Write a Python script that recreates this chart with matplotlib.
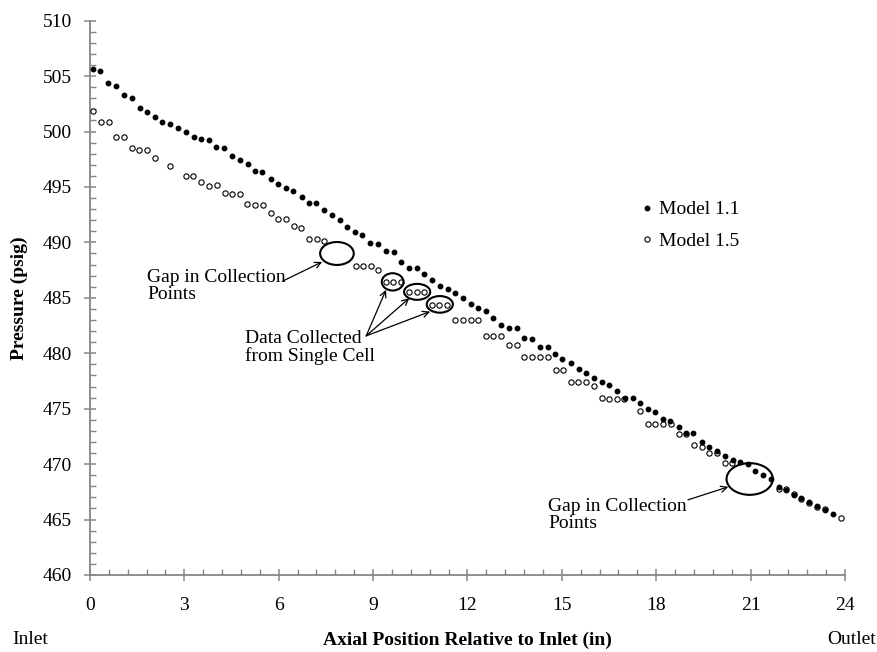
import matplotlib.pyplot as plt
from matplotlib.patches import Ellipse
from matplotlib.ticker import MultipleLocator

plt.rcParams['font.family'] = ['Liberation Serif', 'DejaVu Serif']

# axial position (in) and pressure (psig), Model 1.1
pos_m11 = [0.09, 0.33, 0.58, 0.84, 1.09, 1.33, 1.59, 1.81, 2.07, 2.30,
           2.55, 2.81, 3.04, 3.30, 3.53, 3.77, 4.02, 4.26, 4.52, 4.76,
           5.01, 5.25, 5.48, 5.76, 5.98, 6.23, 6.46, 6.73, 6.95, 7.20,
           7.45, 7.69, 7.94, 8.18, 8.43, 8.65, 8.91, 9.17, 9.41, 9.65,
           9.88, 10.14, 10.38, 10.63, 10.88, 11.13, 11.37, 11.60, 11.85, 12.10,
           12.34, 12.59, 12.82, 13.08, 13.32, 13.56, 13.81, 14.05, 14.30, 14.55,
           14.79, 15.02, 15.29, 15.54, 15.77, 16.03, 16.26, 16.51, 16.74, 17.00,
           17.25, 17.49, 17.73, 17.97, 18.22, 18.45, 18.71, 18.95, 19.18, 19.44,
           19.68, 19.93, 20.19, 20.43, 20.67, 20.91, 21.15, 21.39, 21.64, 21.89,
           22.13, 22.37, 22.61, 22.86, 23.11, 23.36, 23.61]
p_m11 = [505.64, 505.46, 504.36, 504.08, 503.30, 503.00, 502.10, 501.79, 501.34, 500.89,
         500.69, 500.35, 499.96, 499.51, 499.36, 499.24, 498.61, 498.49, 497.80, 497.47,
         497.03, 496.40, 496.38, 495.73, 495.28, 494.94, 494.64, 494.10, 493.56, 493.56,
         492.93, 492.48, 492.00, 491.37, 490.90, 490.69, 489.91, 489.88, 489.26, 489.13,
         488.22, 487.73, 487.68, 487.16, 486.60, 486.05, 485.78, 485.47, 485.02, 484.41,
         484.11, 483.82, 483.19, 482.54, 482.25, 482.25, 481.36, 481.33, 480.53, 480.53,
         479.92, 479.47, 479.16, 478.62, 478.26, 477.80, 477.42, 477.15, 476.59, 475.95,
         475.95, 475.51, 474.96, 474.70, 474.06, 473.88, 473.32, 472.82, 472.82, 472.04,
         471.59, 471.20, 470.77, 470.36, 470.16, 470.03, 469.42, 469.04, 468.70, 467.98,
         467.71, 467.23, 466.93, 466.54, 466.18, 465.85, 465.50]

# Model 1.5 (has gaps where no points were collected)
pos_m15 = [0.11, 0.34, 0.60, 0.84, 1.08, 1.33, 1.57, 1.82, 2.07, 2.55,
           3.05, 3.29, 3.54, 3.78, 4.03, 4.28, 4.52, 4.76, 5.00, 5.25,
           5.49, 5.74, 5.98, 6.22, 6.48, 6.70, 6.97, 7.21, 7.45, 8.44,
           8.67, 8.92, 9.15, 9.41, 9.64, 9.89, 10.14, 10.39, 10.62, 10.87,
           11.11, 11.35, 11.61, 11.85, 12.10, 12.34, 12.58, 12.82, 13.06, 13.32,
           13.56, 13.81, 14.05, 14.30, 14.55, 14.80, 15.04, 15.28, 15.52, 15.77,
           16.01, 16.27, 16.51, 16.75, 16.99, 17.49, 17.73, 17.97, 18.21, 18.46,
           18.71, 18.95, 19.21, 19.45, 19.68, 19.93, 20.17, 20.42, 21.89, 22.13,
           22.37, 22.61, 22.86, 23.11, 23.36, 23.86]
p_m15 = [501.86, 500.82, 500.82, 499.54, 499.54, 498.55, 498.34, 498.34, 497.65, 496.90,
         495.95, 495.95, 495.44, 495.05, 495.14, 494.44, 494.35, 494.35, 493.43, 493.38,
         493.34, 492.63, 492.15, 492.15, 491.49, 491.29, 490.29, 490.29, 490.14, 487.90,
         487.90, 487.90, 487.48, 486.47, 486.47, 486.47, 485.56, 485.56, 485.56, 484.36,
         484.36, 484.36, 482.99, 482.99, 482.99, 482.99, 481.59, 481.59, 481.59, 480.73,
         480.73, 479.68, 479.65, 479.65, 479.65, 478.50, 478.50, 477.39, 477.39, 477.39,
         477.04, 475.95, 475.87, 475.87, 475.84, 474.79, 473.63, 473.63, 473.63, 473.63,
         472.73, 472.69, 471.74, 471.59, 470.99, 471.02, 470.14, 470.14, 467.75, 467.75,
         467.28, 466.87, 466.47, 466.11, 465.94, 465.10]

fig = plt.figure(figsize=(8.78, 6.52), dpi=100)
ax = fig.add_axes([0.1025, 0.1181, 0.8599, 0.8502])

ax.plot(pos_m15, p_m15, ls='none', marker='o', ms=3.8, mfc='white', mec='black',
        mew=0.8, label='Model 1.5', zorder=3)
ax.plot(pos_m11, p_m11, ls='none', marker='o', ms=3.2, color='black',
        label='Model 1.1', zorder=4)

ax.set_xlim(0, 24)
ax.set_ylim(460, 510)
ax.xaxis.set_major_locator(MultipleLocator(3))
ax.xaxis.set_minor_locator(MultipleLocator(0.6))
ax.yaxis.set_major_locator(MultipleLocator(5))
ax.yaxis.set_minor_locator(MultipleLocator(1))

for s in ['top', 'right']:
    ax.spines[s].set_visible(False)
for s in ['left', 'bottom']:
    ax.spines[s].set_color('#868686')
    ax.spines[s].set_linewidth(1.3)
ax.tick_params(which='major', direction='inout', length=8, width=1.1,
               color='#868686', labelsize=14, labelcolor='black')
ax.tick_params(which='minor', direction='in', length=4, width=1.0, color='#868686')
ax.tick_params(axis='y', which='major', pad=9)
ax.tick_params(axis='x', which='major', pad=12)

# legend, order as shown
h, l = ax.get_legend_handles_labels()
ax.legend(h[::-1], l[::-1], loc='center left', bbox_to_anchor=(0.717, 0.631),
          frameon=False, fontsize=14, handlelength=0.6, handletextpad=0.3,
          labelspacing=0.7, borderpad=0)

# circled regions
ax.add_patch(Ellipse((7.85, 489.0), 1.07, 2.07, fill=False, lw=1.5, ec='black', zorder=5))
ax.add_patch(Ellipse((9.62, 486.44), 0.69, 1.56, fill=False, lw=1.5, ec='black', zorder=5))
ax.add_patch(Ellipse((10.40, 485.54), 0.83, 1.44, fill=False, lw=1.5, ec='black', zorder=5))
ax.add_patch(Ellipse((11.12, 484.41), 0.83, 1.50, fill=False, lw=1.5, ec='black', zorder=5))
ax.add_patch(Ellipse((20.97, 468.66), 1.47, 2.86, fill=False, lw=1.5, ec='black', zorder=5))

arrow = dict(arrowstyle='->', lw=0.9, color='black', shrinkA=0, shrinkB=0,
             mutation_scale=11)
ax.annotate('', xy=(7.38, 488.24), xytext=(6.14, 486.53), arrowprops=arrow)
ax.annotate('', xy=(20.29, 467.95), xytext=(19.01, 466.78), arrowprops=arrow)
for end in [(9.41, 485.72), (10.15, 484.97), (10.81, 483.76)]:
    ax.annotate('', xy=end, xytext=(8.78, 481.57), arrowprops=arrow)

ax.text(1.81, 486.03, 'Gap in Collection\nPoints', fontsize=14, va='center',
        ha='left', linespacing=1.0)
ax.text(4.93, 480.49, 'Data Collected\nfrom Single Cell', fontsize=14, va='center',
        ha='left', linespacing=1.0)
ax.text(14.56, 465.45, 'Gap in Collection\nPoints', fontsize=14, va='center',
        ha='left', linespacing=1.0)

fig.text(0.022, 0.5421, 'Pressure (psig)', rotation=90, fontsize=14,
         fontweight='bold', ha='center', va='center')
fig.text(0.5325, 1 - 640 / 652, 'Axial Position Relative to Inlet (in)',
         fontsize=14, fontweight='bold', ha='center', va='center')
fig.text(30 / 878, 1 - 640 / 652, 'Inlet', fontsize=14, ha='center', va='center')
fig.text(852 / 878, 1 - 640 / 652, 'Outlet', fontsize=14, ha='center', va='center')

fig.savefig('out.png', dpi=100)
